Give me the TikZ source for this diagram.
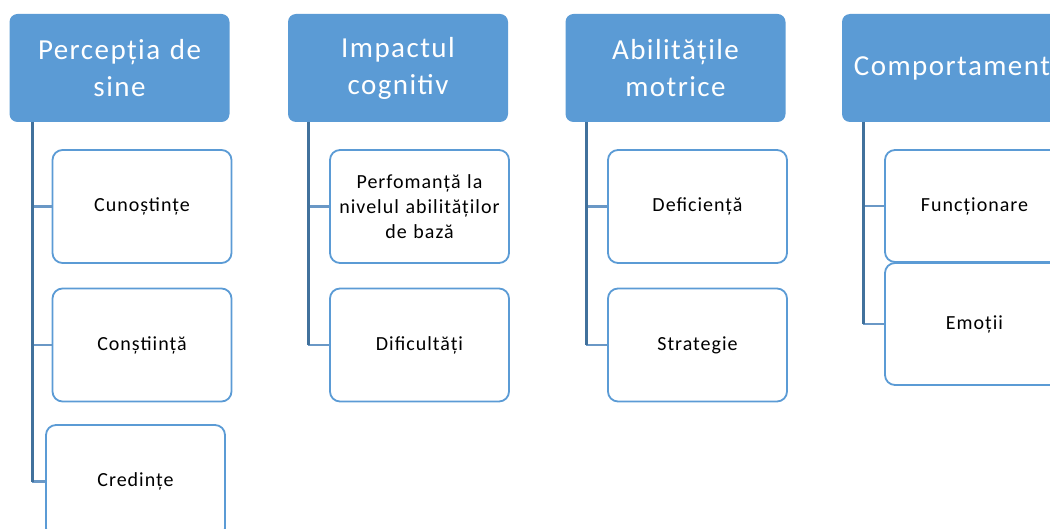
\documentclass[tikz,border=0pt]{standalone}
\usepackage{fontspec}
\setmainfont{Carlito}
\definecolor{hdrblue}{HTML}{5B9BD5}
\definecolor{linkblue}{HTML}{41719C}
\definecolor{branchblue}{HTML}{6A98C6}
\begin{document}
\begin{tikzpicture}[x=1pt,y=-1pt,
  header/.style={rounded corners=8pt, fill=hdrblue, text=white,
    minimum width=220pt, minimum height=108pt, inner sep=2pt,
    align=center, text width=210pt,
    font=\fontsize{29}{37}\selectfont\addfontfeatures{LetterSpace=5}},
  item/.style={rounded corners=10pt, draw=hdrblue, line width=1.8pt, fill=white,
    minimum width=179pt, minimum height=113pt, inner sep=2pt,
    align=center, text width=175pt,
    font=\fontsize{20}{25}\selectfont\addfontfeatures{LetterSpace=5}},
  spine/.style={draw=linkblue, line width=3pt},
  branch/.style={draw=branchblue, line width=2.2pt}]
\useasboundingbox (0,0) rectangle (1050,529);
\clip (0,0) rectangle (1050,529);

% column headers
\node[header] (h1) at (119.5,68) {Percepția de\\sine};
\node[header] (h2) at (398,68) {Impactul\\cognitiv};
\node[header] (h3) at (675.5,68) {Abilitățile\\motrice};
\node[header] (h4) at (952,68) {Comportament};

% column 1 items
\node[item] (a1) at (142,206.5) {Cunoștințe};
\node[item] (a2) at (142,345) {Conștiință};
\node[item] (a3) at (135.5,481.5) {Credințe};
% column 2 items
\node[item] (b1) at (419.5,206.5) {Perfomanță la\\nivelul abilităților\\de bază};
\node[item] (b2) at (419.5,345) {Dificultăți};
% column 3 items
\node[item] (c1) at (697.5,206.5) {Deficiență};
\node[item] (c2) at (697.5,345) {Strategie};
% column 4 items
\node[item, minimum height=112pt] (d1) at (974.5,206) {Funcționare};
\node[item, minimum height=122pt] (d2) at (974.5,324) {Emoții};

% spine start points under each header
\coordinate (s1) at (32,122);
\coordinate (s2) at (308,122);
\coordinate (s3) at (586,122);
\coordinate (s4) at (863,122);

% branches
\foreach \s/\n in {s1/a1,s1/a2,s1/a3,s2/b1,s2/b2,s3/c1,s3/c2,s4/d1,s4/d2}
  \draw[branch] (\s |- \n.west) -- (\n.west);
% spines
\draw[spine] (s1) -- (s1 |- a3.west);
\draw[spine] (s2) -- (s2 |- b2.west);
\draw[spine] (s3) -- (s3 |- c2.west);
\draw[spine] (s4) -- (s4 |- d2.west);
\end{tikzpicture}
\end{document}
